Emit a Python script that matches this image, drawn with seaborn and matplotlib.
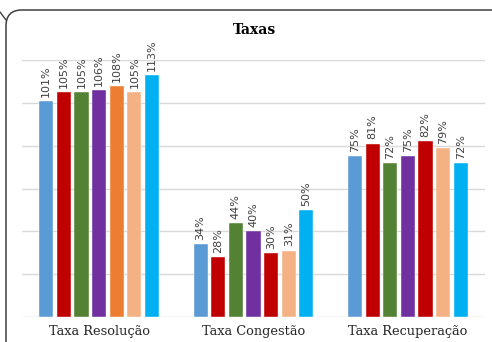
import matplotlib
matplotlib.use("Agg")
import matplotlib.pyplot as plt
from matplotlib.patches import FancyBboxPatch
import matplotlib.transforms as mtransforms
import pandas as pd
import seaborn as sns

# Data
categories = ["Taxa Resolução", "Taxa Congestão", "Taxa Recuperação"]
series = ["S1", "S2", "S3", "S4", "S5", "S6", "S7"]
resolucao = [101, 105, 105, 106, 108, 105, 113]
congestao = [34, 28, 44, 40, 30, 31, 50]
recuperacao = [75, 81, 72, 75, 82, 79, 72]

# Bar colours for each group (fifth bar differs in the first group)
colors_resolucao = ["#5B9BD5", "#C00000", "#548235", "#7030A0", "#ED7D31", "#F4B183", "#00B0F0"]
colors_congestao = ["#5B9BD5", "#C00000", "#548235", "#7030A0", "#C00000", "#F4B183", "#00B0F0"]
colors_recuperacao = ["#5B9BD5", "#C00000", "#548235", "#7030A0", "#C00000", "#F4B183", "#00B0F0"]

values = [resolucao, congestao, recuperacao]
group_colors = [colors_resolucao, colors_congestao, colors_recuperacao]

rows = []
for cat, vals in zip(categories, values):
    for s, v in zip(series, vals):
        rows.append({"categoria": cat, "serie": s, "valor": v})
df = pd.DataFrame(rows)

sns.set_theme(style="white")
plt.rcParams["font.family"] = ["DejaVu Sans"]

W, H = 492, 342
fig = plt.figure(figsize=(W / 100, H / 100), dpi=100)

# Background layer in pixel units for the rounded frame
bg = fig.add_axes([0, 0, 1, 1], zorder=-1)
bg.set_xlim(0, W)
bg.set_ylim(H, 0)
bg.axis("off")
frame = FancyBboxPatch((6, 10), 520, 360,
                       boxstyle="round,pad=0,rounding_size=16",
                       facecolor="white", edgecolor="#404040", linewidth=1.1)
bg.add_patch(frame)
bg.plot([0, 6], [12, 20], color="#404040", linewidth=1)

ax = fig.add_axes([22 / W, 1 - 317 / H, (485 - 22) / W, (317 - 60) / H])
ax.patch.set_alpha(0)

sns.barplot(data=df, x="categoria", y="valor", hue="serie", order=categories,
            hue_order=series, palette=colors_resolucao, width=0.8, gap=0.2,
            legend=False, ax=ax, errorbar=None, saturation=1)

ax.set_ylim(0, 120)
ax.set_yticks(range(0, 121, 20))
ax.yaxis.grid(True, color="#D9D9D9", linewidth=1)
ax.set_axisbelow(True)
ax.tick_params(axis="y", left=False, labelleft=False)
ax.tick_params(axis="x", bottom=False, length=0, pad=6)
for sp in ax.spines.values():
    sp.set_visible(False)
ax.set_xlabel("")
ax.set_ylabel("")
for lbl in ax.get_xticklabels():
    lbl.set_family("DejaVu Serif")
    lbl.set_fontsize(9.3)
    lbl.set_color("#262626")

# Recolour bars per group and add value labels
offset = mtransforms.offset_copy(ax.transData, fig=fig, x=0, y=3, units="points")
n_cat = len(categories)
for h_idx, patch in enumerate(ax.patches[: n_cat * len(series)]):
    s_idx = h_idx // n_cat
    c_idx = h_idx % n_cat
    patch.set_facecolor(group_colors[c_idx][s_idx])
    patch.set_edgecolor("white")
    patch.set_linewidth(0.3)
    val = values[c_idx][s_idx]
    x = patch.get_x() + patch.get_width() / 2
    ax.text(x, val, f"{val}%", transform=offset, rotation=90,
            ha="center", va="bottom", fontsize=8, color="#404040",
            clip_on=False)

fig.text(0.517, 1 - 30 / H, "Taxas", ha="center", va="center", fontsize=10,
         fontweight="bold", family="DejaVu Serif", color="#000000")

fig.savefig("out.png", dpi=100)
